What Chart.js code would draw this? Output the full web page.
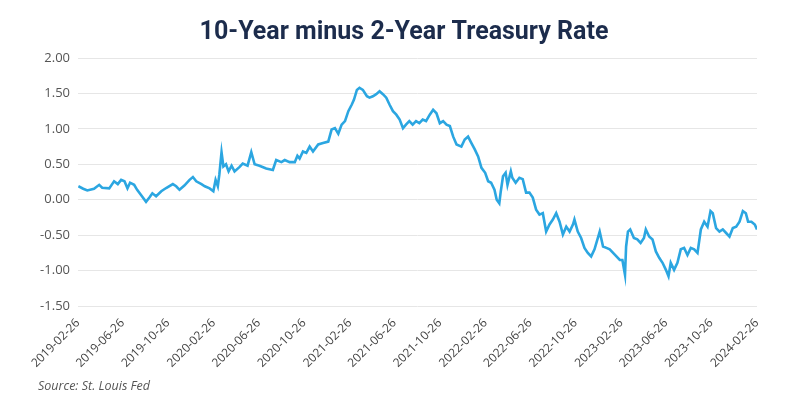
<!DOCTYPE html>
<html>
<head>
<meta charset="utf-8">
<script src="https://cdn.jsdelivr.net/npm/chart.js@4/dist/chart.umd.min.js"></script>
<style>
  html, body { margin: 0; padding: 0; background: #ffffff; }
  #wrap { width: 800px; height: 399px; position: relative; }
</style>
</head>
<body>
<div id="wrap"><canvas id="c" width="800" height="399"></canvas></div>
<script>
const chartTitle = "10-Year minus 2-Year Treasury Rate";
const sourceNote = "Source: St. Louis Fed";
const seriesName = "10Y-2Y";

const tickDates = [
  "2019-02-26","2019-06-26","2019-10-26","2020-02-26","2020-06-26","2020-10-26",
  "2021-02-26","2021-06-26","2021-10-26","2022-02-26","2022-06-26","2022-10-26",
  "2023-02-26","2023-06-26","2023-10-26","2024-02-26"
];

const yTicks = [-1.5, -1.0, -0.5, 0.0, 0.5, 1.0, 1.5, 2.0];

const dates = [
  "2019-02-27","2019-03-12","2019-03-23","2019-04-10","2019-04-24","2019-05-02","2019-05-21","2019-06-03",
  "2019-06-13","2019-06-22","2019-07-01","2019-07-09","2019-07-16","2019-07-27","2019-08-04","2019-08-14",
  "2019-08-28","2019-09-06","2019-09-14","2019-09-24","2019-10-08","2019-10-21","2019-11-08","2019-11-17",
  "2019-11-26","2019-12-09","2019-12-23","2020-01-01","2020-01-10","2020-01-24","2020-02-02","2020-02-15",
  "2020-02-25","2020-03-02","2020-03-08","2020-03-12","2020-03-18","2020-03-23","2020-03-30","2020-04-06",
  "2020-04-14","2020-04-22","2020-05-05","2020-05-14","2020-05-27","2020-06-06","2020-06-15","2020-06-28",
  "2020-07-16","2020-08-03","2020-08-12","2020-08-26","2020-09-04","2020-09-17","2020-10-01","2020-10-08",
  "2020-10-14","2020-10-23","2020-11-01","2020-11-10","2020-11-19","2020-12-03","2020-12-16","2020-12-30",
  "2021-01-08","2021-01-17","2021-01-26","2021-02-04","2021-02-13","2021-02-22","2021-03-03","2021-03-09",
  "2021-03-17","2021-03-24","2021-04-02","2021-04-13","2021-04-20","2021-04-29","2021-05-08","2021-05-17",
  "2021-05-26","2021-06-04","2021-06-13","2021-06-22","2021-07-01","2021-07-10","2021-07-19","2021-07-27",
  "2021-08-05","2021-08-14","2021-08-23","2021-09-01","2021-09-10","2021-09-19","2021-09-29","2021-10-08",
  "2021-10-17","2021-10-26","2021-11-04","2021-11-13","2021-11-22","2021-12-01","2021-12-10","2021-12-23",
  "2022-01-01","2022-01-10","2022-01-19","2022-01-28","2022-02-06","2022-02-15","2022-02-25","2022-03-05",
  "2022-03-13","2022-03-22","2022-03-28","2022-04-04","2022-04-08","2022-04-14","2022-04-21","2022-04-26",
  "2022-05-05","2022-05-09","2022-05-18","2022-05-28","2022-06-06","2022-06-15","2022-06-24","2022-07-03",
  "2022-07-12","2022-07-21","2022-07-30","2022-08-08","2022-08-17","2022-08-26","2022-09-04","2022-09-13",
  "2022-09-22","2022-10-01","2022-10-10","2022-10-19","2022-10-23","2022-11-01","2022-11-10","2022-11-19",
  "2022-11-28","2022-12-07","2022-12-16","2022-12-30","2023-01-08","2023-01-17","2023-01-26","2023-02-04",
  "2023-02-13","2023-02-22","2023-03-01","2023-03-08","2023-03-11","2023-03-16","2023-03-22","2023-04-01",
  "2023-04-10","2023-04-19","2023-04-28","2023-05-03","2023-05-12","2023-05-21","2023-05-30","2023-06-08",
  "2023-06-17","2023-06-26","2023-07-03","2023-07-09","2023-07-18","2023-07-27","2023-08-05","2023-08-14",
  "2023-08-23","2023-09-01","2023-09-10","2023-09-19","2023-09-28","2023-10-07","2023-10-16","2023-10-24",
  "2023-10-30","2023-11-08","2023-11-17","2023-11-26","2023-12-05","2023-12-14","2023-12-23","2024-01-01",
  "2024-01-10","2024-01-19","2024-01-27","2024-02-02","2024-02-11","2024-02-20","2024-02-26"
];

const spread = [
  0.19,0.155,0.13,0.155,0.21,0.17,0.16,0.26,
  0.22,0.28,0.26,0.16,0.24,0.21,0.14,0.07,
  -0.03,0.03,0.09,0.05,0.12,0.165,0.22,0.19,
  0.14,0.20,0.28,0.32,0.26,0.22,0.19,0.16,
  0.12,0.28,0.19,0.35,0.67,0.47,0.50,0.40,
  0.48,0.40,0.46,0.51,0.48,0.67,0.50,0.48,
  0.44,0.42,0.56,0.53,0.56,0.53,0.53,0.62,
  0.58,0.68,0.66,0.75,0.68,0.78,0.80,0.82,
  0.99,1.01,0.93,1.06,1.11,1.25,1.34,1.41,
  1.55,1.58,1.55,1.46,1.44,1.46,1.49,1.53,
  1.49,1.44,1.34,1.25,1.20,1.13,1.01,1.06,
  1.11,1.06,1.11,1.08,1.13,1.11,1.20,1.27,
  1.22,1.08,1.11,1.06,1.04,0.89,0.78,0.75,
  0.85,0.89,0.80,0.71,0.61,0.45,0.38,0.26,
  0.24,0.14,0.00,-0.05,0.12,0.33,0.38,0.21,
  0.40,0.31,0.24,0.31,0.29,0.10,0.10,0.03,
  -0.14,-0.21,-0.19,-0.45,-0.35,-0.28,-0.19,-0.31,
  -0.49,-0.38,-0.45,-0.35,-0.28,-0.45,-0.54,-0.68,
  -0.75,-0.80,-0.70,-0.45,-0.66,-0.68,-0.70,-0.75,
  -0.80,-0.85,-0.85,-1.06,-0.66,-0.45,-0.42,-0.54,
  -0.56,-0.61,-0.54,-0.42,-0.52,-0.56,-0.73,-0.82,
  -0.89,-0.99,-1.08,-0.89,-0.99,-0.89,-0.70,-0.68,
  -0.78,-0.68,-0.70,-0.75,-0.42,-0.31,-0.38,-0.16,
  -0.19,-0.40,-0.45,-0.42,-0.47,-0.52,-0.40,-0.38,
  -0.31,-0.16,-0.19,-0.31,-0.31,-0.35,-0.42
];

const toTime = s => Date.parse(s + "T00:00:00Z");
const fmtDate = t => new Date(t).toISOString().slice(0, 10);

const points = dates.map((d, i) => ({ x: toTime(d), y: spread[i] }));
const tickTimes = tickDates.map(toTime);

const textPlugin = {
  id: "textNotes",
  afterDraw(chart) {
    const ctx = chart.ctx;
    ctx.save();
    ctx.font = "bold 25px Roboto, sans-serif";
    ctx.fillStyle = "#1c2c4c";
    ctx.textAlign = "center";
    ctx.textBaseline = "middle";
    ctx.fillText(chartTitle, 404, 33);
    ctx.font = "italic 12.5px 'Open Sans', sans-serif";
    ctx.fillStyle = "#555555";
    ctx.textAlign = "left";
    ctx.fillText(sourceNote, 38, 386);
    ctx.restore();
  }
};

new Chart(document.getElementById("c"), {
  type: "line",
  data: {
    datasets: [{
      label: seriesName,
      data: points,
      borderColor: "#2ba6e1",
      borderWidth: 2.6,
      pointRadius: 0,
      tension: 0,
      fill: false
    }]
  },
  options: {
    responsive: false,
    animation: false,
    layout: { padding: { left: 0, right: 43, top: 58, bottom: 0 } },
    plugins: {
      legend: { display: false },
      tooltip: { enabled: false },
      title: { display: false }
    },
    scales: {
      x: {
        type: "linear",
        min: tickTimes[0],
        max: tickTimes[tickTimes.length - 1],
        grid: { display: false },
        border: { display: false },
        afterBuildTicks(scale) {
          scale.ticks = tickTimes.map(v => ({ value: v }));
        },
        afterFit(scale) { scale.height = 93; },
        ticks: {
          autoSkip: false,
          minRotation: 45,
          maxRotation: 45,
          padding: 2,
          color: "#444444",
          font: { family: "'Open Sans', sans-serif", size: 12 },
          callback: v => fmtDate(v)
        }
      },
      y: {
        min: -1.5,
        max: 2.0,
        afterBuildTicks(scale) {
          scale.ticks = yTicks.map(v => ({ value: v }));
        },
        afterFit(scale) { scale.width = 78; },
        grid: { color: "#e6e6e6", lineWidth: 1, drawTicks: false },
        border: { display: false },
        ticks: {
          padding: 8,
          color: "#555555",
          font: { family: "'Open Sans', sans-serif", size: 13 },
          callback: v => Number(v).toFixed(2)
        }
      }
    }
  },
  plugins: [textPlugin]
});
</script>
</body>
</html>
